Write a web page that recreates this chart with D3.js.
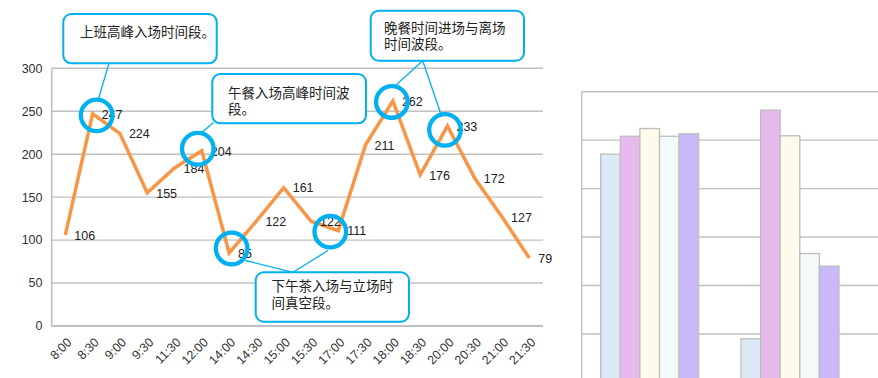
<!DOCTYPE html>
<html><head><meta charset="utf-8">
<script src="https://cdn.jsdelivr.net/npm/d3@7"></script>
<style>html,body{margin:0;padding:0;background:#fff;}svg{display:block;}</style>
</head><body>
<script>
// ---- Line chart data ----
const categories = ["8:00","8:30","9:00","9:30","11:30","12:00","14:00","14:30","15:00","15:30","17:00","17:30","18:00","18:30","20:00","20:30","21:00","21:30"];
const visitors = [106,247,224,155,184,204,85,122,161,122,111,211,262,176,233,172,127,79];
const yTicks = [0,50,100,150,200,250,300];

// ---- Callout annotations (index of highlighted point) ----
const highlightIdx = [1,5,6,10,12,14];
const calloutTexts = [
  ["上班高峰入场时间段。"],
  ["午餐入场高峰时间波","段。"],
  ["晚餐时间进场与离场","时间波段。"],
  ["下午茶入场与立场时","间真空段。"]
];

// ---- Bar chart (partial, right side) data ----
const barGroups = ["A","B","C"];
const barSeries = ["系列1","系列2","系列3","系列4","系列5"];
const barValues = [
  [57.1,60.8,62.4,60.8,61.3],
  [19.0,66.2,60.9,36.6,34.0],
  [40.7,55.0,50.0,45.0,40.0]
];
const barColors = ["#DCEAF7","#E7BAEE","#FDFCEA","#F4FAFA","#C9B9F9"];
const barTicks = [10,20,30,40,50,60];

const W = 878, H = 378;
const svg = d3.select("body").append("svg").attr("width", W).attr("height", H);
svg.append("rect").attr("width", W).attr("height", H).attr("fill", "#fff");

const latin = "'Liberation Sans', Arial, sans-serif";
const cjk = "'Noto Sans CJK SC', sans-serif";

// ================= Line chart =================
const x = d3.scaleBand().domain(categories).range([51.7, 543]);
const cx = d => x(d) + x.bandwidth() / 2;
const y = d3.scaleLinear().domain([0, 300]).range([326, 68.3]);

const grid = svg.append("g");
grid.selectAll("line").data(yTicks).join("line")
  .attr("x1", 51.7).attr("x2", 543)
  .attr("y1", d => y(d)).attr("y2", d => y(d))
  .attr("stroke", "#c0c0c0").attr("stroke-width", d => d === 0 ? 2 : 1.4);
grid.append("line").attr("x1", 51.7).attr("x2", 51.7).attr("y1", y(300)).attr("y2", y(0))
  .attr("stroke", "#c0c0c0").attr("stroke-width", 1.6);

svg.append("g").selectAll("text").data(yTicks).join("text")
  .attr("x", 42.5).attr("y", d => y(d)).attr("dy", "0.35em")
  .attr("text-anchor", "end").attr("font-family", latin).attr("font-size", 12.5)
  .attr("fill", "#333").text(d => d);

svg.append("g").selectAll("text").data(categories).join("text")
  .attr("transform", d => `translate(${cx(d) + 4},${340}) rotate(-45)`)
  .attr("text-anchor", "end").attr("dy", "0.35em")
  .attr("font-family", latin).attr("font-size", 12.5).attr("fill", "#333")
  .text(d => d);

const line = d3.line().x((d, i) => cx(categories[i])).y(d => y(d));
svg.append("path").datum(visitors).attr("d", line)
  .attr("fill", "none").attr("stroke", "#F79646").attr("stroke-width", 3.5)
  .attr("stroke-linejoin", "miter");

svg.append("g").selectAll("text").data(visitors).join("text")
  .attr("x", (d, i) => cx(categories[i]) + 9).attr("y", d => y(d)).attr("dy", "0.38em")
  .attr("font-family", latin).attr("font-size", 12.5).attr("fill", "#222")
  .text(d => d);

// ---- annotations ----
const blue = "#00B0F0";
const circleOffsets = [[4,1.5],[-4,-2],[2.5,-4.5],[-8,1],[-1,1],[-2.5,4]];
const circ = highlightIdx.map((idx, k) => ({
  x: cx(categories[idx]) + circleOffsets[k][0],
  y: y(visitors[idx]) + circleOffsets[k][1]
}));

const boxes = [
  {x: 63.3, y: 14, w: 153.4, h: 49.3, tx: 80, ty: 32},
  {x: 212.3, y: 74, w: 153.7, h: 49.3, tx: 228, ty: 93},
  {x: 370.7, y: 10.7, w: 153.3, h: 50, tx: 384, ty: 28},
  {x: 255.7, y: 272.3, w: 153.3, h: 49.4, tx: 271.5, ty: 286.5}
];
const pointers = [
  [[109, 63.3], [98, 100.5]],
  [[213.5, 122.5], [200, 134]],
  [[422.7, 60.7], [395, 86]],
  [[422.7, 60.7], [440.7, 113.5]],
  [[293, 272.3], [245.5, 260.5]],
  [[293, 272.3], [328, 250.5]]
];

svg.append("g").selectAll("line").data(pointers).join("line")
  .attr("x1", d => d[0][0]).attr("y1", d => d[0][1])
  .attr("x2", d => d[1][0]).attr("y2", d => d[1][1])
  .attr("stroke", blue).attr("stroke-width", 1.3);

svg.append("g").selectAll("circle").data(circ).join("circle")
  .attr("cx", d => d.x).attr("cy", d => d.y).attr("r", 15.8)
  .attr("fill", "none").attr("stroke", blue).attr("stroke-width", 4.3);

const bx = svg.append("g").selectAll("g").data(boxes).join("g");
bx.append("rect").attr("x", d => d.x).attr("y", d => d.y)
  .attr("width", d => d.w).attr("height", d => d.h).attr("rx", 8).attr("ry", 8)
  .attr("fill", "#fff").attr("stroke", blue).attr("stroke-width", 2);
bx.each(function(d, i) {
  const g = d3.select(this);
  calloutTexts[i].forEach((t, j) => {
    g.append("text").attr("x", d.tx).attr("y", d.ty + j * 16.5).attr("dy", "0.36em")
      .attr("font-family", cjk).attr("font-size", 13.5).attr("fill", "#222").text(t);
  });
});

// ================= Bar chart (partial) =================
const bTop = 91.7, bLeft = 581.7;
const by = d3.scaleLinear().domain([0, 70]).range([430.9, bTop]);
const x0 = d3.scaleBand().domain(barGroups).range([579.3, 579.3 + 140.3 * barGroups.length]);
const x1 = d3.scaleBand().domain(barSeries).range([21.4, 21.4 + 98]);

svg.append("g").selectAll("line").data(barTicks).join("line")
  .attr("x1", bLeft).attr("x2", W).attr("y1", d => by(d)).attr("y2", d => by(d))
  .attr("stroke", "#c0c0c0").attr("stroke-width", 1.4);
svg.append("line").attr("x1", bLeft).attr("x2", W).attr("y1", bTop).attr("y2", bTop)
  .attr("stroke", "#c0c0c0").attr("stroke-width", 1.4);
svg.append("line").attr("x1", bLeft).attr("x2", bLeft).attr("y1", bTop).attr("y2", H)
  .attr("stroke", "#c0c0c0").attr("stroke-width", 1.4);

const bg = svg.append("g").selectAll("g").data(barValues).join("g")
  .attr("transform", (d, i) => `translate(${x0(barGroups[i])},0)`);
bg.selectAll("rect").data(d => d).join("rect")
  .attr("x", (d, j) => x1(barSeries[j])).attr("y", d => by(d))
  .attr("width", x1.bandwidth()).attr("height", d => by(0) - by(d))
  .attr("fill", (d, j) => barColors[j]).attr("stroke", "#bdbdbd").attr("stroke-width", 1.3);
</script>
</body></html>
